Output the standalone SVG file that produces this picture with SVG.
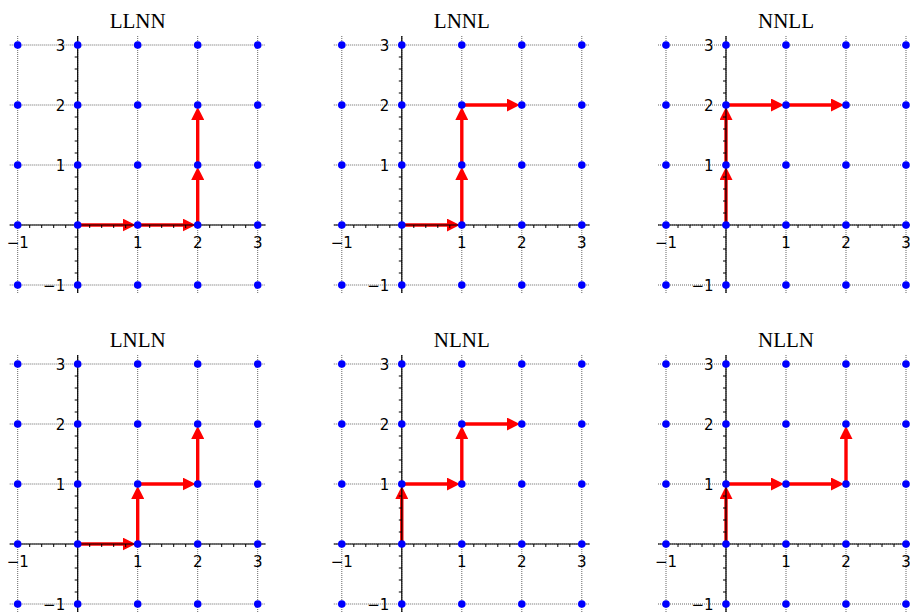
<svg xmlns="http://www.w3.org/2000/svg" xmlns:xlink="http://www.w3.org/1999/xlink" width="910" height="613" viewBox="0 0 910 613">
<style>
.grid{stroke:#666;stroke-width:1;stroke-dasharray:1 1;fill:none}
.axis{stroke:#000;stroke-width:1.2;fill:none}
.tick{stroke:#000;stroke-width:1;fill:none}
.dot{fill:#0000ff}
.title{font-family:"Liberation Serif","Times New Roman",serif;font-size:21px;fill:#000;text-anchor:middle}
.lab{font-family:"DejaVu Sans",sans-serif;font-size:15px;fill:#000}
.xl{text-anchor:middle}
.yl{text-anchor:end}
.arr{stroke:#ff0000;stroke-width:3.4;fill:none;marker-end:url(#ah)}
</style>
<defs>
<marker id="ah" markerUnits="userSpaceOnUse" markerWidth="13" markerHeight="13" viewBox="0 0 13 13" refX="1" refY="6.5" orient="auto"><path d="M0,0L13,6.5L0,13z" fill="#ff0000"/></marker>
<g id="under">
<path class="grid" d="M-60,-189V68M0,-189V68M60,-189V68M120,-189V68M180,-189V68M-68,60H188M-68,0H188M-68,-60H188M-68,-120H188M-68,-180H188"/>
</g>
<g id="over">
<path class="axis" d="M-68,0H188M0,-189V68"/>
<path class="tick" d="M-60,0v3M-48,0v3M-36,0v3M-24,0v3M-12,0v3M12,0v3M24,0v3M36,0v3M48,0v3M60,0v3M72,0v3M84,0v3M96,0v3M108,0v3M120,0v3M132,0v3M144,0v3M156,0v3M168,0v3M180,0v3M0,60h-3M0,48h-3M0,36h-3M0,24h-3M0,12h-3M0,-12h-3M0,-24h-3M0,-36h-3M0,-48h-3M0,-60h-3M0,-72h-3M0,-84h-3M0,-96h-3M0,-108h-3M0,-120h-3M0,-132h-3M0,-144h-3M0,-156h-3M0,-168h-3M0,-180h-3"/>
<g class="dot">
<circle cx="-60" cy="60" r="3.8"/><circle cx="0" cy="60" r="3.8"/><circle cx="60" cy="60" r="3.8"/><circle cx="120" cy="60" r="3.8"/><circle cx="180" cy="60" r="3.8"/>
<circle cx="-60" cy="0" r="3.8"/><circle cx="0" cy="0" r="3.8"/><circle cx="60" cy="0" r="3.8"/><circle cx="120" cy="0" r="3.8"/><circle cx="180" cy="0" r="3.8"/>
<circle cx="-60" cy="-60" r="3.8"/><circle cx="0" cy="-60" r="3.8"/><circle cx="60" cy="-60" r="3.8"/><circle cx="120" cy="-60" r="3.8"/><circle cx="180" cy="-60" r="3.8"/>
<circle cx="-60" cy="-120" r="3.8"/><circle cx="0" cy="-120" r="3.8"/><circle cx="60" cy="-120" r="3.8"/><circle cx="120" cy="-120" r="3.8"/><circle cx="180" cy="-120" r="3.8"/>
<circle cx="-60" cy="-180" r="3.8"/><circle cx="0" cy="-180" r="3.8"/><circle cx="60" cy="-180" r="3.8"/><circle cx="120" cy="-180" r="3.8"/><circle cx="180" cy="-180" r="3.8"/>
</g>
</g>
</defs>

<g id="panel-LLNN" transform="translate(77.7,225)">
<use href="#under" xlink:href="#under"/>
<g id="arrows-LLNN"><path class="arr" d="M0,0H46"/><path class="arr" d="M60,0H106"/><path class="arr" d="M120,0V-46"/><path class="arr" d="M120,-60V-106"/></g>
<use href="#over" xlink:href="#over"/>
<g class="lab"><text class="xl" x="-60" y="22.5">−1</text><text class="xl" x="60" y="22.5">1</text><text class="xl" x="120" y="22.5">2</text><text class="xl" x="180" y="22.5">3</text><text class="yl" x="-12.5" y="-174.5">3</text><text class="yl" x="-12.5" y="-114.5">2</text><text class="yl" x="-12.5" y="-54.5">1</text><text class="yl" x="-12.5" y="65.5">−1</text></g>
<text class="title" x="60" y="-197.5">LLNN</text>
</g>

<g id="panel-LNNL" transform="translate(401.8,225)">
<use href="#under" xlink:href="#under"/>
<g id="arrows-LNNL"><path class="arr" d="M0,0H46"/><path class="arr" d="M60,0V-46"/><path class="arr" d="M60,-60V-106"/><path class="arr" d="M60,-120H106"/></g>
<use href="#over" xlink:href="#over"/>
<g class="lab"><text class="xl" x="-60" y="22.5">−1</text><text class="xl" x="60" y="22.5">1</text><text class="xl" x="120" y="22.5">2</text><text class="xl" x="180" y="22.5">3</text><text class="yl" x="-12.5" y="-174.5">3</text><text class="yl" x="-12.5" y="-114.5">2</text><text class="yl" x="-12.5" y="-54.5">1</text><text class="yl" x="-12.5" y="65.5">−1</text></g>
<text class="title" x="60" y="-197.5">LNNL</text>
</g>

<g id="panel-NNLL" transform="translate(726,225)">
<use href="#under" xlink:href="#under"/>
<g id="arrows-NNLL"><path class="arr" d="M0,0V-46"/><path class="arr" d="M0,-60V-106"/><path class="arr" d="M0,-120H46"/><path class="arr" d="M60,-120H106"/></g>
<use href="#over" xlink:href="#over"/>
<g class="lab"><text class="xl" x="-60" y="22.5">−1</text><text class="xl" x="60" y="22.5">1</text><text class="xl" x="120" y="22.5">2</text><text class="xl" x="180" y="22.5">3</text><text class="yl" x="-12.5" y="-174.5">3</text><text class="yl" x="-12.5" y="-114.5">2</text><text class="yl" x="-12.5" y="-54.5">1</text><text class="yl" x="-12.5" y="65.5">−1</text></g>
<text class="title" x="60" y="-197.5">NNLL</text>
</g>

<g id="panel-LNLN" transform="translate(77.7,544)">
<use href="#under" xlink:href="#under"/>
<g id="arrows-LNLN"><path class="arr" d="M0,0H46"/><path class="arr" d="M60,0V-46"/><path class="arr" d="M60,-60H106"/><path class="arr" d="M120,-60V-106"/></g>
<use href="#over" xlink:href="#over"/>
<g class="lab"><text class="xl" x="-60" y="22.5">−1</text><text class="xl" x="60" y="22.5">1</text><text class="xl" x="120" y="22.5">2</text><text class="xl" x="180" y="22.5">3</text><text class="yl" x="-12.5" y="-174.5">3</text><text class="yl" x="-12.5" y="-114.5">2</text><text class="yl" x="-12.5" y="-54.5">1</text><text class="yl" x="-12.5" y="65.5">−1</text></g>
<text class="title" x="60" y="-197.5">LNLN</text>
</g>

<g id="panel-NLNL" transform="translate(401.8,544)">
<use href="#under" xlink:href="#under"/>
<g id="arrows-NLNL"><path class="arr" d="M0,0V-46"/><path class="arr" d="M0,-60H46"/><path class="arr" d="M60,-60V-106"/><path class="arr" d="M60,-120H106"/></g>
<use href="#over" xlink:href="#over"/>
<g class="lab"><text class="xl" x="-60" y="22.5">−1</text><text class="xl" x="60" y="22.5">1</text><text class="xl" x="120" y="22.5">2</text><text class="xl" x="180" y="22.5">3</text><text class="yl" x="-12.5" y="-174.5">3</text><text class="yl" x="-12.5" y="-114.5">2</text><text class="yl" x="-12.5" y="-54.5">1</text><text class="yl" x="-12.5" y="65.5">−1</text></g>
<text class="title" x="60" y="-197.5">NLNL</text>
</g>

<g id="panel-NLLN" transform="translate(726,544)">
<use href="#under" xlink:href="#under"/>
<g id="arrows-NLLN"><path class="arr" d="M0,0V-46"/><path class="arr" d="M0,-60H46"/><path class="arr" d="M60,-60H106"/><path class="arr" d="M120,-60V-106"/></g>
<use href="#over" xlink:href="#over"/>
<g class="lab"><text class="xl" x="-60" y="22.5">−1</text><text class="xl" x="60" y="22.5">1</text><text class="xl" x="120" y="22.5">2</text><text class="xl" x="180" y="22.5">3</text><text class="yl" x="-12.5" y="-174.5">3</text><text class="yl" x="-12.5" y="-114.5">2</text><text class="yl" x="-12.5" y="-54.5">1</text><text class="yl" x="-12.5" y="65.5">−1</text></g>
<text class="title" x="60" y="-197.5">NLLN</text>
</g>
</svg>
